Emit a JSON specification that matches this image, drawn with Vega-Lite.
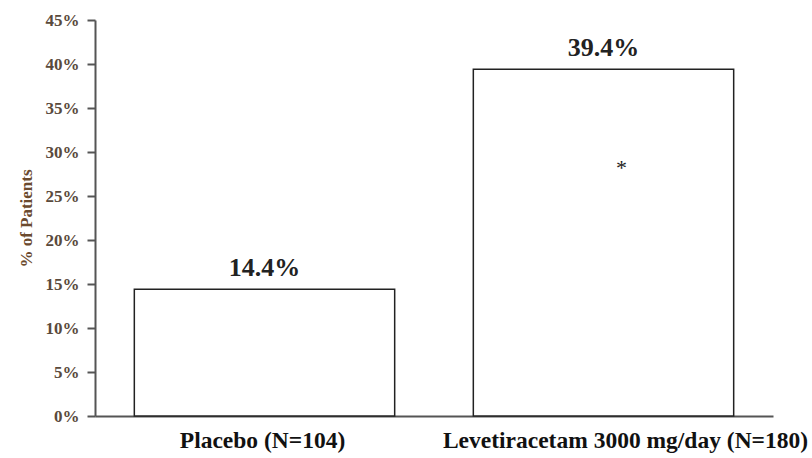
{
  "$schema": "https://vega.github.io/schema/vega-lite/v6.json",
  "width": 678,
  "height": 396,
  "autosize": {"type": "none"},
  "padding": {"left": 95, "top": 20, "right": 39, "bottom": 42},
  "background": "white",
  "config": {"view": {"stroke": null}, "font": "Liberation Serif"},
  "data": {"values": [
    {"group": "Placebo (N=104)", "pct": 14.4, "label": "14.4%", "note": "", "noteY": 0},
    {"group": "Levetiracetam 3000 mg/day (N=180)", "pct": 39.4, "label": "39.4%", "note": "*", "noteY": 28.6}
  ]},
  "encoding": {
    "x": {
      "field": "group", "type": "nominal", "sort": null,
      "scale": {"paddingInner": 0.232, "paddingOuter": 0.116},
      "axis": {
        "title": null, "labelAngle": 0, "ticks": false, "labelPadding": 12,
        "labelFont": "Liberation Serif", "labelFontSize": 23.5, "labelFontWeight": "bold",
        "labelOffset": {"condition": {"test": "indexof(datum.value, 'Levetiracetam') >= 0", "value": 22}, "value": -2},
        "labelColor": "#111", "domainColor": "#555", "domainWidth": 2, "labelLimit": 450
      }
    }
  },
  "layer": [
    {
      "mark": {"type": "bar", "fill": "white", "stroke": "#222", "strokeWidth": 1.5},
      "encoding": {
        "y": {
          "field": "pct", "type": "quantitative",
          "scale": {"domain": [0, 45]},
          "axis": {
            "values": [0, 5, 10, 15, 20, 25, 30, 35, 40, 45],
            "labelExpr": "datum.value + '%'",
            "title": "% of Patients", "titleFont": "Liberation Serif", "titleFontSize": 17,
            "titleFontWeight": "bold", "titleColor": "#6b4a2e", "titlePadding": 10,
            "labelFont": "Liberation Serif", "labelFontSize": 17, "labelFontWeight": "bold",
            "labelColor": "#5a4a3c", "labelPadding": 8,
            "grid": false, "tickSize": 8, "tickColor": "#555", "tickWidth": 2,
            "domainColor": "#555", "domainWidth": 2
          }
        }
      }
    },
    {
      "mark": {"type": "text", "baseline": "bottom", "dy": -8, "font": "Liberation Serif", "fontSize": 26, "fontWeight": "bold", "color": "#222"},
      "encoding": {
        "y": {"field": "pct", "type": "quantitative"},
        "text": {"field": "label"}
      }
    },
    {
      "mark": {"type": "text", "baseline": "middle", "dx": 18, "dy": 4, "font": "Liberation Serif", "fontSize": 22, "color": "#222"},
      "encoding": {
        "y": {"field": "noteY", "type": "quantitative"},
        "text": {"field": "note"}
      }
    }
  ]
}
